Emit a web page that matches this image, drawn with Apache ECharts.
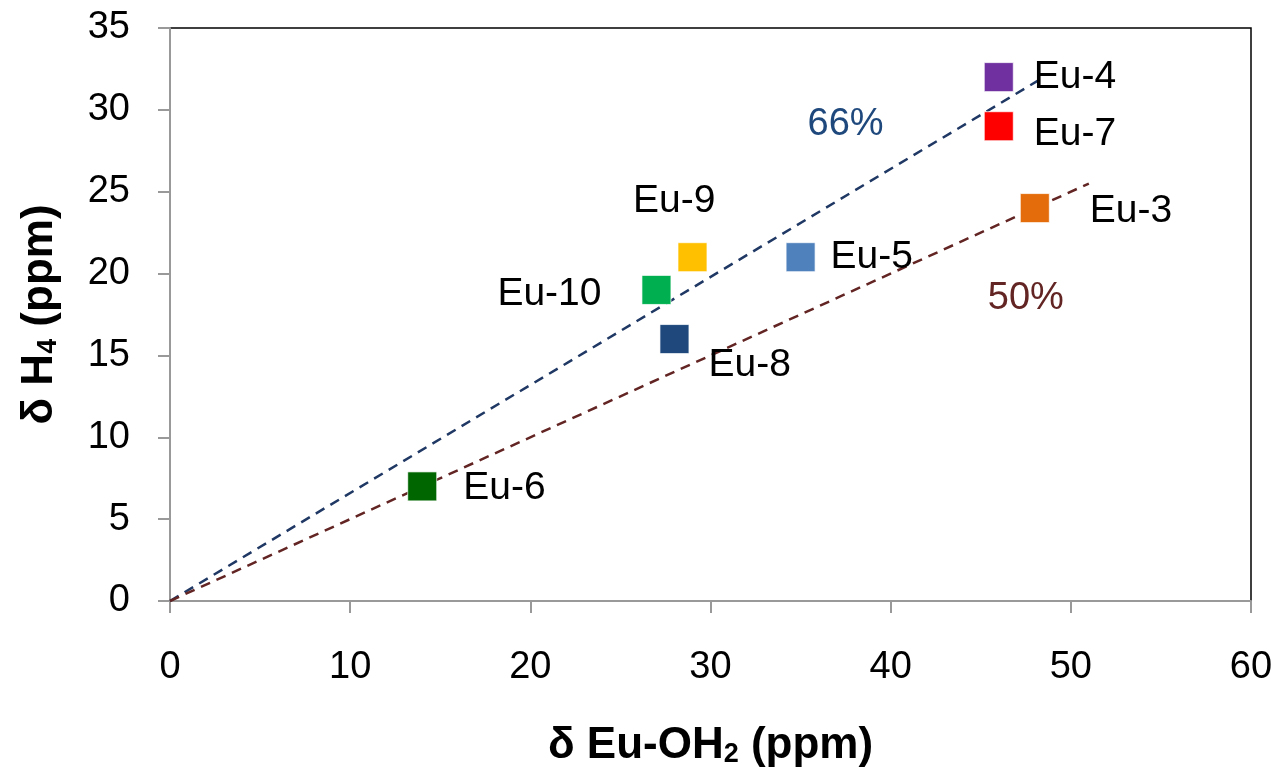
<!DOCTYPE html>
<html>
<head>
<meta charset="utf-8">
<script src="https://cdn.jsdelivr.net/npm/echarts@6/dist/echarts.min.js"></script>
<style>
  html, body { margin: 0; padding: 0; background: #fff; }
  #chart { width: 1279px; height: 773px; }
</style>
</head>
<body>
<div id="chart"></div>
<script>
// samples: name, δ Eu-OH2, δ H4
const names = ['Eu-4', 'Eu-7', 'Eu-3', 'Eu-9', 'Eu-5', 'Eu-10', 'Eu-8', 'Eu-6'];
const xVals = [46, 46, 48, 29, 35, 27, 28, 14];
const yVals = [32, 29, 24, 21, 21, 19, 16, 7];
const colors = ['#7030A0', '#FF0000', '#E46C0A', '#FFC000', '#4F81BD', '#00B050', '#1F497D', '#006600'];
// label offset from marker centre [dx, dy, align]
const labelPos = [
  [35, 0, 'left'], [35, 8, 'left'], [55, 3, 'left'], [23, -56, 'right'],
  [30, 0, 'left'], [-55, 4, 'right'], [34, 26, 'left'], [41, 2, 'left']
];

// trend lines through origin
const line66 = [[0, 0], [48.5, 32]];
const line50 = [[0, 0], [51, 25.5]];
const trendText = ['66%', '50%'];
const trendPos = [[37.5, 29.1], [47.5, 18.5]];

const xTicks = [0, 60, 10];
const yTicks = [0, 35, 5];

const font = 'Liberation Sans, Arial, sans-serif';
const chart = echarts.init(document.getElementById('chart'));

const pointSeries = names.map((n, i) => ({
  type: 'scatter',
  name: n,
  symbol: 'rect',
  symbolSize: 29,
  z: 3,
  emphasis: { disabled: true },
  itemStyle: { color: colors[i], opacity: 1, borderColor: 'rgba(255,255,255,0.7)', borderWidth: 1 },
  label: {
    show: true,
    formatter: n,
    position: 'inside',
    offset: [labelPos[i][0], labelPos[i][1]],
    align: labelPos[i][2],
    verticalAlign: 'middle',
    color: '#000',
    textBorderWidth: 0,
    fontSize: 39,
    fontFamily: font
  },
  data: [[xVals[i], yVals[i]]]
}));

const titleRich = {
  a: { fontSize: 44, fontWeight: 'bold', color: '#000', fontFamily: font },
  s: { fontSize: 27, fontWeight: 'bold', color: '#000', fontFamily: font, padding: [18, 0, 0, 0] }
};

const option = {
  animation: false,
  backgroundColor: '#fff',
  grid: {
    left: 170, right: 28, top: 28, bottom: 172,
    show: true, borderColor: '#000', borderWidth: 1.5, backgroundColor: 'transparent'
  },
  xAxis: {
    type: 'value',
    min: xTicks[0], max: xTicks[1], interval: xTicks[2],
    axisLine: { show: true, lineStyle: { color: '#999', width: 2 } },
    axisTick: { show: true, length: 12, lineStyle: { color: '#999', width: 2 } },
    splitLine: { show: false },
    axisLabel: { fontSize: 38, color: '#000', fontFamily: font, margin: 48 },
    name: '{a|δ Eu-OH}{s|2}{a| (ppm)}',
    nameLocation: 'middle',
    nameGap: 122,
    nameTextStyle: { rich: titleRich }
  },
  yAxis: {
    type: 'value',
    min: yTicks[0], max: yTicks[1], interval: yTicks[2],
    axisLine: { show: true, lineStyle: { color: '#999', width: 2 } },
    axisTick: { show: true, length: 12, lineStyle: { color: '#999', width: 2 } },
    splitLine: { show: false },
    axisLabel: { fontSize: 38, color: '#000', fontFamily: font, margin: 40 },
    name: '{a|δ H}{s|4}{a| (ppm)}',
    nameLocation: 'middle',
    nameRotate: 90,
    nameGap: 108,
    nameTextStyle: { rich: titleRich }
  },
  series: [
    {
      type: 'line', data: line66, symbol: 'none', z: 2,
      emphasis: { disabled: true },
      lineStyle: { color: '#1F3864', width: 2.5, type: [10, 7] }
    },
    {
      type: 'line', data: line50, symbol: 'none', z: 2,
      emphasis: { disabled: true },
      lineStyle: { color: '#632523', width: 2.5, type: [10, 7] }
    },
    {
      type: 'scatter', symbolSize: 0, z: 4,
      emphasis: { disabled: true },
      itemStyle: { opacity: 1 },
      data: trendText.map((t, i) => ({
        value: trendPos[i],
        label: {
          show: true, formatter: t, position: 'inside',
          color: i === 0 ? '#1F497D' : '#632523',
          textBorderWidth: 0,
          fontSize: 38, fontFamily: font
        }
      }))
    },
    ...pointSeries
  ]
};
chart.setOption(option);
</script>
</body>
</html>
